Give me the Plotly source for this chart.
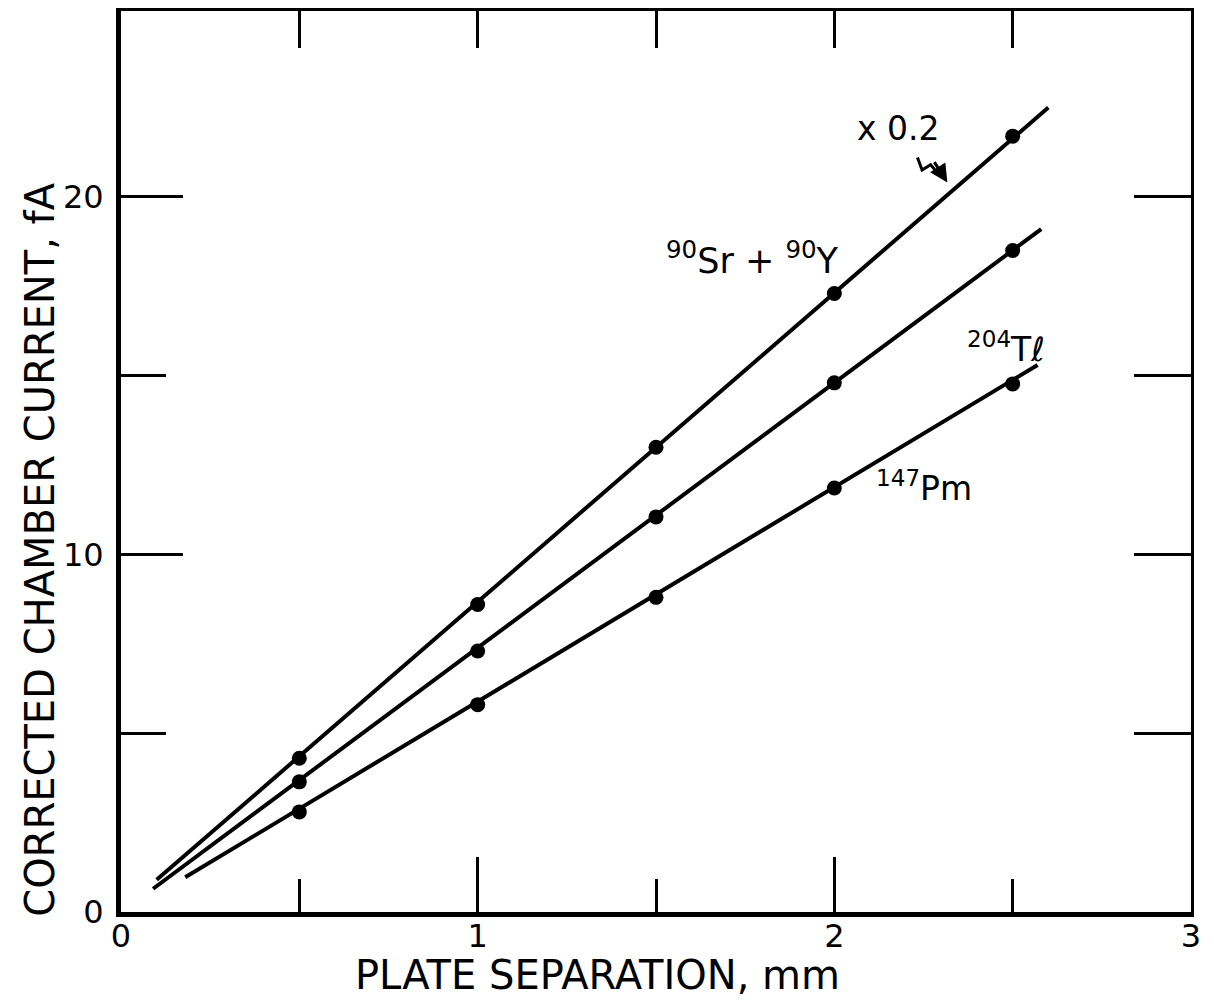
import plotly.graph_objects as go

# ---- data ----
plate_sep = [0.5, 1.0, 1.5, 2.0, 2.5]
sr_y_current = [4.3, 8.6, 13.0, 17.3, 21.7]
tl_current = [3.64, 7.3, 11.05, 14.8, 18.5]
pm_current = [2.8, 5.8, 8.8, 11.86, 14.77]

# fitted straight lines (endpoints)
sr_line_x = [0.10, 2.60]
sr_line_y = [0.90, 22.5]
tl_line_x = [0.09, 2.58]
tl_line_y = [0.65, 19.1]
pm_line_x = [0.18, 2.57]
pm_line_y = [0.97, 15.3]

x_tick_vals = [0, 1, 2, 3]
x_tick_text = ["0", "1", "2", "3"]
y_tick_vals = [0, 10, 20]
y_tick_text = ["0", "10", "20"]

FONT = "DejaVu Sans"
INK = "black"

fig = go.Figure()

for lx, ly in [(sr_line_x, sr_line_y), (tl_line_x, tl_line_y), (pm_line_x, pm_line_y)]:
    fig.add_trace(go.Scatter(x=lx, y=ly, mode="lines",
                             line=dict(color=INK, width=4), showlegend=False,
                             hoverinfo="skip"))

for ys in [sr_y_current, tl_current, pm_current]:
    fig.add_trace(go.Scatter(x=plate_sep, y=ys, mode="markers",
                             marker=dict(color=INK, size=15), showlegend=False))

# dummy trace for the top/right axes
fig.add_trace(go.Scatter(x=[0], y=[0], xaxis="x2", yaxis="y2", mode="markers",
                         marker=dict(opacity=0), showlegend=False, hoverinfo="skip"))

fig.update_layout(
    width=1214, height=1007,
    margin=dict(l=121, r=23, t=11, b=95),
    paper_bgcolor="white", plot_bgcolor="white",
    font=dict(family=FONT, color=INK, size=32),
    xaxis=dict(range=[0, 3], showgrid=False, zeroline=False,
               showline=True, linecolor=INK, linewidth=5,
               ticks="inside", tickvals=x_tick_vals, ticktext=x_tick_text,
               ticklen=55, tickwidth=3, tickcolor=INK,
               ticklabelstandoff=-8,
               tickfont=dict(size=32, family=FONT),
               minor=dict(tickvals=[0.5, 1.5, 2.5], ticks="inside",
                          ticklen=33, tickwidth=3, tickcolor=INK)),
    yaxis=dict(range=[0, 25.2], showgrid=False, zeroline=False,
               showline=True, linecolor=INK, linewidth=5,
               ticks="inside", tickvals=y_tick_vals, ticktext=y_tick_text,
               ticklen=62, tickwidth=3, tickcolor=INK,
               ticklabelstandoff=6,
               tickfont=dict(size=32, family=FONT),
               minor=dict(tickvals=[5, 15], ticks="inside",
                          ticklen=45, tickwidth=3, tickcolor=INK)),
    xaxis2=dict(range=[0, 3], overlaying="x", side="top", anchor="y",
                showgrid=False, zeroline=False, showline=True, linecolor=INK,
                linewidth=3, ticks="inside", tickvals=[0.5, 1, 1.5, 2, 2.5],
                ticklen=37, tickwidth=3, tickcolor=INK, showticklabels=False),
    yaxis2=dict(range=[0, 25.2], overlaying="y", side="right", anchor="x",
                showgrid=False, zeroline=False, showline=True, linecolor=INK,
                linewidth=3, ticks="inside", tickvals=[5, 10, 15, 20],
                ticklen=57, tickwidth=3, tickcolor=INK, showticklabels=False),
)

annotations = [
    dict(text="CORRECTED CHAMBER CURRENT, fA", xref="paper", yref="paper",
         x=-0.0757, y=0.402, xanchor="center", yanchor="middle",
         textangle=-90, showarrow=False,
         font=dict(size=40, family=FONT)),
    dict(text="PLATE SEPARATION, mm", xref="paper", yref="paper",
         x=0.445, y=-0.07, xanchor="center", yanchor="middle",
         showarrow=False, font=dict(size=40, family=FONT)),
    dict(text="x 0.2", x=2.18, y=21.9, showarrow=False, font=dict(size=33)),
    dict(text="<sup>90</sup>Sr + <sup>90</sup>Y", x=1.77, y=18.3,
         showarrow=False, font=dict(size=35)),
    dict(text="<sup>204</sup>Tℓ", x=2.48, y=15.8, showarrow=False,
         font=dict(size=33)),
    dict(text="<sup>147</sup>Pm", x=2.25, y=11.9, showarrow=False,
         font=dict(size=33)),
    dict(text="", x=2.317, y=20.4, ax=-14, ay=-22, showarrow=True,
         arrowhead=2, arrowsize=1.2, arrowwidth=3, arrowcolor=INK),
]
fig.update_layout(annotations=annotations)

# squiggle of the "x 0.2" pointer
fig.add_shape(type="path", xref="x", yref="y",
              path="M 2.233,21.1 L 2.246,20.75 L 2.27,20.9 L 2.287,20.7",
              line=dict(color=INK, width=3))

fig.write_html("out.html")
